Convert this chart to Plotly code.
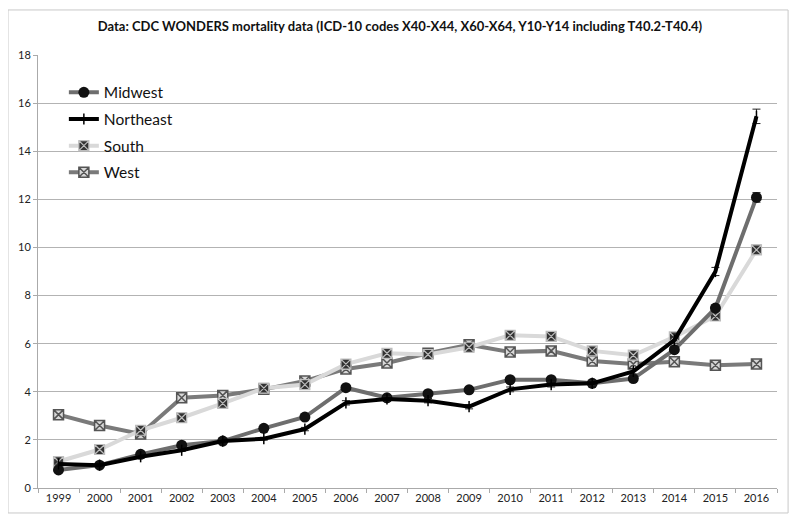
import plotly.graph_objects as go

years = [str(y) for y in range(1999, 2017)]

midwest = [0.75, 0.95, 1.40, 1.78, 1.95, 2.48, 2.95, 4.17, 3.75, 3.92, 4.08, 4.50, 4.50, 4.35, 4.55, 5.75, 7.48, 12.08]
northeast = [1.00, 0.95, 1.30, 1.57, 1.95, 2.05, 2.45, 3.54, 3.70, 3.63, 3.38, 4.10, 4.30, 4.35, 4.85, 6.15, 9.00, 15.45]
south = [1.10, 1.60, 2.40, 2.92, 3.52, 4.15, 4.30, 5.15, 5.60, 5.55, 5.85, 6.35, 6.30, 5.70, 5.52, 6.28, 7.15, 9.90]
west = [3.05, 2.60, 2.25, 3.75, 3.85, 4.10, 4.45, 4.95, 5.20, 5.60, 5.95, 5.65, 5.70, 5.28, 5.15, 5.25, 5.10, 5.15]

midwest_err = [0.03, 0.03, 0.04, 0.04, 0.05, 0.05, 0.06, 0.07, 0.07, 0.07, 0.07, 0.08, 0.08, 0.08, 0.08, 0.10, 0.13, 0.20]
northeast_err = [0.04, 0.04, 0.05, 0.05, 0.06, 0.06, 0.07, 0.09, 0.09, 0.09, 0.09, 0.10, 0.10, 0.10, 0.11, 0.13, 0.17, 0.30]

title = "Data: CDC WONDERS mortality data (ICD-10 codes X40-X44, X60-X64, Y10-Y14 including T40.2-T40.4)"

fig = go.Figure()

fig.add_trace(go.Scatter(
    x=years, y=west, name="West", mode="lines+markers", legendrank=4, legendgroup="w",
    line=dict(color="#7a7a7a", width=4),
    marker=dict(symbol="square-x", size=10, color="#d8d8d8", line=dict(color="#555555", width=1.5)),
))
fig.add_trace(go.Scatter(
    x=years, y=south, name="South", mode="lines+markers", legendrank=3, legendgroup="s",
    line=dict(color="#d9d9d9", width=4),
    marker=dict(symbol="square-x", size=10, color="#333333", line=dict(color="#bdbdbd", width=1.2)),
))
fig.add_trace(go.Scatter(
    x=years, y=midwest, name="Midwest", mode="lines+markers", legendrank=1, legendgroup="m",
    line=dict(color="#6e6e6e", width=4),
    marker=dict(symbol="circle", size=11, color="#111111"),
    error_y=dict(type="data", array=midwest_err, color="#222222", thickness=1, width=4),
))
fig.add_trace(go.Scatter(
    x=years, y=northeast, name="Northeast", mode="lines+markers", legendrank=2, legendgroup="n",
    line=dict(color="#000000", width=4),
    marker=dict(symbol="line-ns", size=8, color="#000000", line=dict(color="#000000", width=1.5)),
    error_y=dict(type="data", array=northeast_err, color="#222222", thickness=1, width=4),
))

fig.update_layout(
    template="none",
    width=800, height=525,
    paper_bgcolor="white", plot_bgcolor="white",
    margin=dict(l=30, r=31, t=47, b=45, autoexpand=False),
    font=dict(family="Lato, Open Sans, sans-serif", color="#222222"),
    title=dict(text="<b>" + title + "</b>", x=0.49, xanchor="center", y=0.964, yanchor="middle",
               font=dict(size=13, color="#111111", family="Lato, sans-serif")),
    showlegend=True,
    legend=dict(x=0.035, y=0.952, xanchor="left", yanchor="top", bgcolor="rgba(0,0,0,0)",
                font=dict(size=15.5, color="#111111", family="Lato, sans-serif"), itemwidth=30,
                tracegroupgap=3.5, traceorder="grouped"),
    xaxis=dict(type="category", range=[-0.5, 17.5], automargin=False, showgrid=False, showline=True,
               linecolor="#aaaaaa", linewidth=1,
               ticks="outside", tickson="boundaries", ticklen=4, tickcolor="#aaaaaa",
               tickfont=dict(size=11, color="#222222")),
    yaxis=dict(range=[0, 18], dtick=2, automargin=False, showgrid=True, gridcolor="#b3b3b3", gridwidth=1,
               showline=True, linecolor="#aaaaaa", linewidth=1, ticks="outside", ticklen=4,
               tickcolor="#aaaaaa", zeroline=False, tickfont=dict(size=11, color="#222222")),
    shapes=[dict(type="rect", xref="paper", yref="paper", x0=-0.0406, x1=1.015, y0=-0.0577, y1=1.104,
                 line=dict(color="#c8c8c8", width=1), fillcolor="rgba(0,0,0,0)", layer="below")],
)

fig.write_html("out.html")
